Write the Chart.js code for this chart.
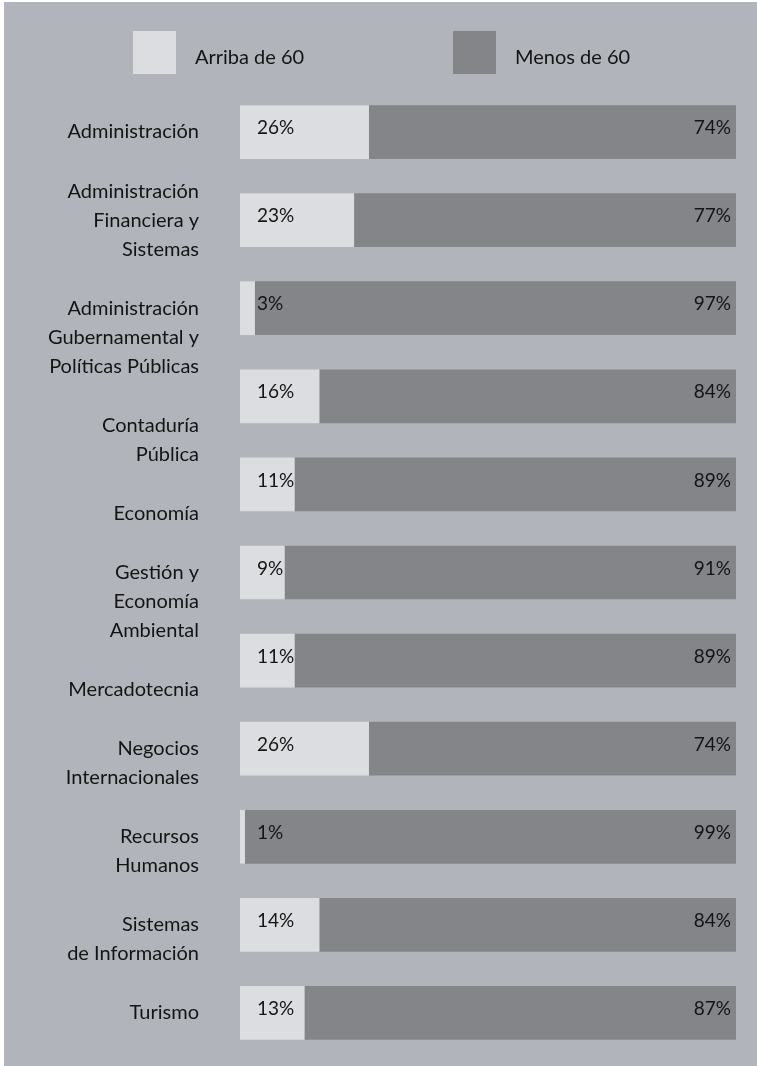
<!DOCTYPE html>
<html lang="es">
<head>
<meta charset="utf-8">
<title>Arriba de 60 / Menos de 60</title>
<script src="https://cdn.jsdelivr.net/npm/chart.js@4.4.1/dist/chart.umd.min.js"></script>
<style>
    html, body { margin: 0; padding: 0; background: #ffffff; }
    #wrap { position: absolute; left: 4px; top: 2px; width: 753px; height: 1064px; background: #b1b5bb; }
</style>
</head>
<body>
<div id="wrap"><canvas id="grafica"></canvas></div>
<script>
// etiquetas (las lineas vacias bajan el texto como en el original)
const categorias = [
    ['Administración'],
    ['Administración', 'Financiera y', 'Sistemas'],
    ['', '', 'Administración', 'Gubernamental y', 'Políticas Públicas'],
    ['', '', '', 'Contaduría', 'Pública'],
    ['', '', 'Economía'],
    ['', '', 'Gestión y', 'Economía', 'Ambiental'],
    ['', '', 'Mercadotecnia'],
    ['', 'Negocios', 'Internacionales'],
    ['', 'Recursos', 'Humanos'],
    ['', 'Sistemas', 'de Información'],
    ['Turismo']
];
const arriba = [26, 23, 3, 16, 11, 9, 11, 26, 1, 14, 13];
const menos = [74, 77, 97, 84, 89, 91, 89, 74, 99, 84, 87];
const series = ['Arriba de 60', 'Menos de 60'];
const colores = ['#dcdde0', '#848589'];

const fuente = 'Lato, "Open Sans", sans-serif';
const colorTexto = '#141414';

// etiquetas de porcentaje dentro de las barras
const etiquetasBarras = {
    id: 'etiquetasBarras',
    afterDatasetsDraw(chart) {
        const ctx = chart.ctx;
        ctx.save();
        ctx.font = '19px ' + fuente;
        ctx.fillStyle = colorTexto;
        ctx.textBaseline = 'middle';
        chart.getDatasetMeta(0).data.forEach((bar, i) => {
            ctx.textAlign = 'left';
            ctx.fillText(arriba[i] + '%', bar.base + 17, bar.y - 4);
        });
        chart.getDatasetMeta(1).data.forEach((bar, i) => {
            ctx.textAlign = 'right';
            ctx.fillText(menos[i] + '%', bar.x - 5, bar.y - 4);
        });
        ctx.restore();
    }
};

// leyenda con cuadros grandes
const leyenda = {
    id: 'leyenda',
    afterDraw(chart) {
        const ctx = chart.ctx;
        const posiciones = [129, 449];
        ctx.save();
        ctx.font = '20px ' + fuente;
        ctx.textBaseline = 'middle';
        ctx.textAlign = 'left';
        chart.data.datasets.forEach((ds, i) => {
            ctx.fillStyle = ds.backgroundColor;
            ctx.fillRect(posiciones[i], 29, 43, 43);
            ctx.fillStyle = colorTexto;
            ctx.fillText(ds.label, posiciones[i] + 62, 56);
        });
        ctx.restore();
    }
};

const grafica = new Chart(document.getElementById('grafica'), {
    type: 'bar',
    data: {
        labels: categorias,
        datasets: [{
            label: series[0],
            // la parte clara ocupa lo que deja la oscura
            data: menos.map(v => 100 - v),
            backgroundColor: colores[0]
        }, {
            label: series[1],
            data: menos,
            backgroundColor: colores[1]
        }]
    },
    options: {
        indexAxis: 'y',
        responsive: true,
        maintainAspectRatio: false,
        animation: false,
        categoryPercentage: 1,
        barPercentage: 0.61,
        layout: {
            padding: { top: 86, bottom: 9, left: 0, right: 21 }
        },
        plugins: {
            legend: { display: false },
            tooltip: { enabled: false }
        },
        scales: {
            x: {
                stacked: true,
                min: 0,
                max: 100,
                display: false
            },
            y: {
                stacked: true,
                border: { display: false },
                grid: { display: false, drawTicks: false },
                ticks: {
                    autoSkip: false,
                    padding: 41,
                    color: colorTexto,
                    font: { family: fuente, size: 20, lineHeight: '29px' }
                },
                afterFit(scale) {
                    scale.width = 236;
                    scale.paddingTop = 0;
                    scale.paddingBottom = 0;
                }
            }
        }
    },
    plugins: [etiquetasBarras, leyenda]
});
</script>
</body>
</html>
